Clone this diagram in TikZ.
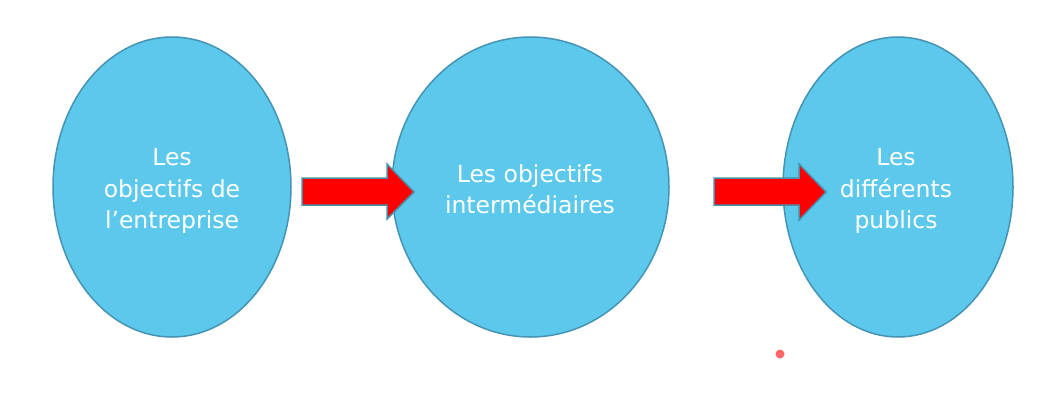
\documentclass[tikz,border=0pt]{standalone}
\usepackage{fontspec}
\setmainfont{DejaVu Sans}
\definecolor{ellfill}{HTML}{5BC8EC}
\definecolor{elldraw}{HTML}{4594B4}
\definecolor{arrdraw}{HTML}{4A8FA8}
\definecolor{dotred}{HTML}{FF6666}
\begin{document}
\begin{tikzpicture}[x=1pt,y=-1pt,
  bubble/.style={draw=elldraw,fill=ellfill,line width=1.5pt},
  bigarrow/.style={draw=arrdraw,fill=red,line width=1.5pt,line join=miter},
  label/.style={text=white,align=center,font=\fontsize{23.5}{31.5}\selectfont}]
\useasboundingbox (0,0) rectangle (1063,415);
\fill[white] (0,0) rectangle (1063,415);
\draw[bubble] (172,187) ellipse [x radius=119, y radius=150];
\draw[bubble] (530.5,187) ellipse [x radius=138.5, y radius=150];
\draw[bubble] (898,187) ellipse [x radius=115, y radius=150];
\draw[bigarrow] (302,178) -- (387,178) -- (387,164) -- (414,192) -- (387,219) -- (387,205) -- (302,205) -- cycle;
\draw[bigarrow] (714,178) -- (799,178) -- (799,164) -- (826,192) -- (799,220) -- (799,205) -- (714,205) -- cycle;
\node[label] (t1) at (172,191) {Les\\objectifs de\\l’entreprise};
\node[label] (t2) at (530,189) {Les objectifs\\intermédiaires};
\node[label] (t3) at (896,191) {Les\\différents\\publics};
\fill[dotred] (780,354) circle (4.5);
\end{tikzpicture}
\end{document}
